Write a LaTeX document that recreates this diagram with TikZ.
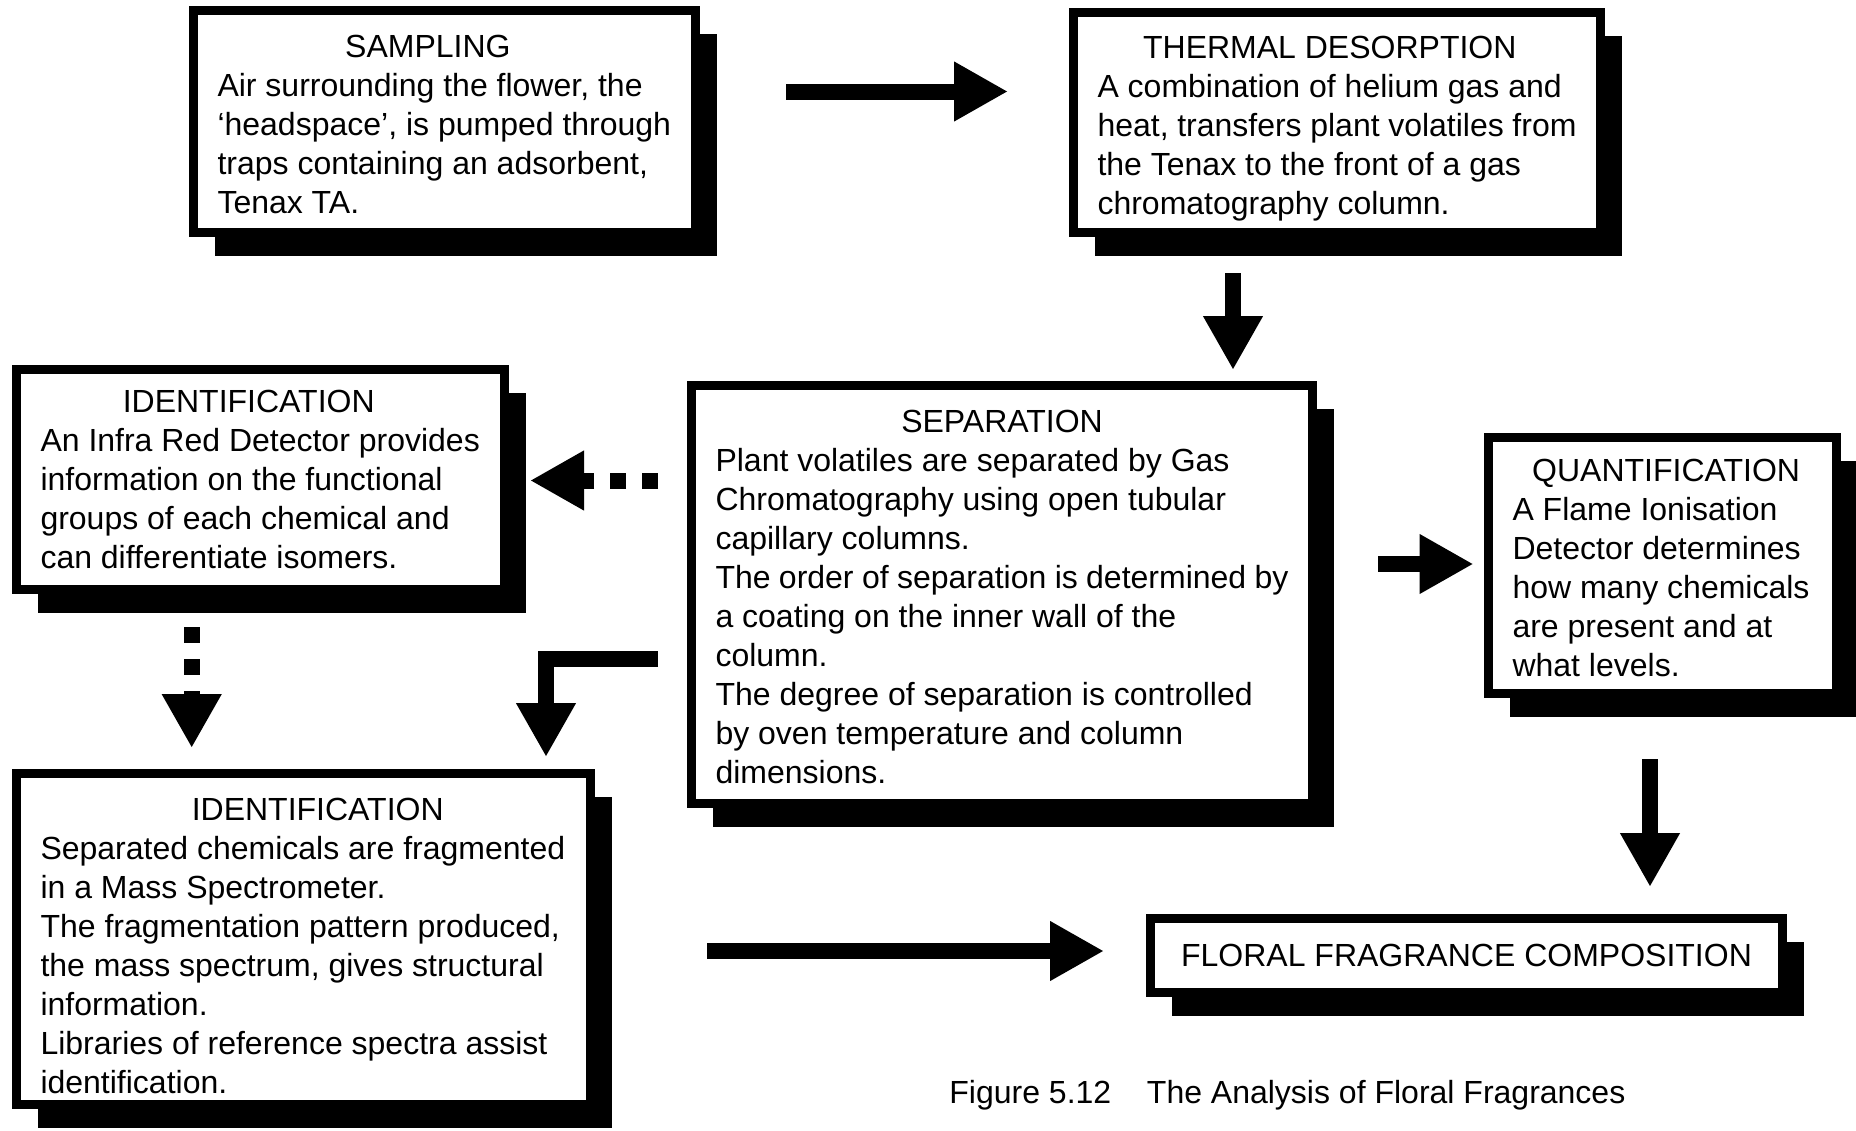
\documentclass[tikz,border=0pt]{standalone}
\usepackage{fontspec}
\setmainfont{Liberation Sans}
\usetikzlibrary{arrows.meta,shadows}
\setlength{\parindent}{0pt}
\frenchspacing
% #1 strut height of the heading line, #2 sideways offset of the heading, #3 heading
\newcommand{\stagehead}[3][0pt]{\spaceskip=0pt\xspaceskip=0pt
  {\centering\hspace*{#2}\hspace*{#2}\rule{0pt}{#1}#3\par}}

\begin{document}
\begin{tikzpicture}[x=0.5pt, y=-0.5pt,
  stage/.style={rectangle, draw=black, line width=4.5pt, fill=white, anchor=north west,
                inner xsep=12pt, inner ysep=0pt, align=left,
                font=\fontsize{16pt}{19.5pt}\selectfont,
                drop shadow={shadow xshift=10.75pt, shadow yshift=-11.75pt, fill=black, opacity=1}},
  flow/.style={line width=8pt, -{Triangle[length=27pt, width=28pt]}},
  dflow/.style={flow, dash pattern=on 8pt off 8pt},
  figlabel/.style={font=\fontsize{16pt}{19.5pt}\selectfont, inner sep=0pt, anchor=base west}
]
\useasboundingbox (0,0) rectangle (1856,1130);

\node[stage, minimum width=251pt, minimum height=111pt, text width=227pt] (samp) at (189,6)
  {\stagehead[13.8pt]{-8.3pt}{SAMPLING}Air surrounding the flower, the\\
   `headspace', is pumped through\\
   traps containing an adsorbent,\\
   Tenax TA.};

\node[stage, minimum width=263.5pt, minimum height=110pt, text width=239.5pt] (therm) at (1069,8)
  {\stagehead[17.4pt]{-3.6pt}{THERMAL DESORPTION}A combination of helium gas and\\
   heat, transfers plant volatiles from\\
   the Tenax to the front of a gas\\
   chromatography column.};

\node[stage, minimum width=244pt, minimum height=110pt, text width=220pt] (ir) at (12,365)
  {\stagehead{-5.9pt}{IDENTIFICATION}An Infra Red Detector provides\\
   information on the functional\\
   groups of each chemical and\\
   can differentiate isomers.};

\node[stage, minimum width=310.5pt, minimum height=209pt, text width=286.5pt] (sep) at (687,381)
  {\stagehead[13.8pt]{0pt}{SEPARATION}Plant volatiles are separated by Gas\\
   Chromatography using open tubular\\
   capillary columns.\\
   The order of separation is determined by\\
   a coating on the inner wall of the\\
   column.\\
   The degree of separation is controlled\\
   by oven temperature and column\\
   dimensions.};

\node[stage, minimum width=174pt, minimum height=128pt, text width=150pt] (quant) at (1484,433)
  {\stagehead[13.8pt]{1.8pt}{QUANTIFICATION}A Flame Ionisation\\
   Detector determines\\
   how many chemicals\\
   are present and at\\
   what levels.};

\node[stage, minimum width=287pt, minimum height=165.5pt, text width=263pt] (ms) at (12,769)
  {\stagehead[18.4pt]{7.1pt}{IDENTIFICATION}Separated chemicals are fragmented\\
   in a Mass Spectrometer.\\
   The fragmentation pattern produced,\\
   the mass spectrum, gives structural\\
   information.\\
   Libraries of reference spectra assist\\
   identification.};

\node[stage, minimum width=316pt, minimum height=37pt, align=center] (floral) at (1146,914)
  {FLORAL FRAGRANCE COMPOSITION};

\node[figlabel] (caption) at (949,1103)
  {Figure 5.12\hspace{13.4pt} The Analysis of Floral Fragrances};

\draw[flow, shorten <=43pt, shorten >=30.5pt]
  ([yshift=15pt]samp.east) -- ([yshift=15pt]samp.east -| therm.west);
\draw[flow, shorten <=18pt, shorten >=5.5pt]
  ([xshift=-52pt]therm.south) -- ([xshift=-52pt]therm.south |- sep.north);
\draw[dflow, shorten <=14.5pt, shorten >=10.5pt]
  ([yshift=57pt]sep.west) -- ([yshift=57pt]sep.west -| ir.east);
\draw[dflow, shorten <=16.5pt, shorten >=10.5pt]
  ([xshift=-34.4pt]ir.south) -- ([xshift=-34.4pt]ir.south |- ms.north);
\draw[flow, shorten <=14.5pt, shorten >=6pt]
  ([yshift=-32.25pt]sep.west) -| ([xshift=121.25pt]ms.north);
\draw[flow, shorten <=30.5pt, shorten >=5.25pt]
  ([yshift=15.25pt]sep.east) -- ([yshift=15.25pt]sep.east -| quant.west);
\draw[flow, shorten <=30.5pt, shorten >=13.5pt]
  ([xshift=-6.25pt]quant.south) -- ([xshift=-6.25pt]quant.south |- floral.north);
\draw[flow, shorten <=56pt, shorten >=21pt]
  ([yshift=-6pt]ms.east) -- ([yshift=-6pt]ms.east -| floral.west);

\end{tikzpicture}
\end{document}
